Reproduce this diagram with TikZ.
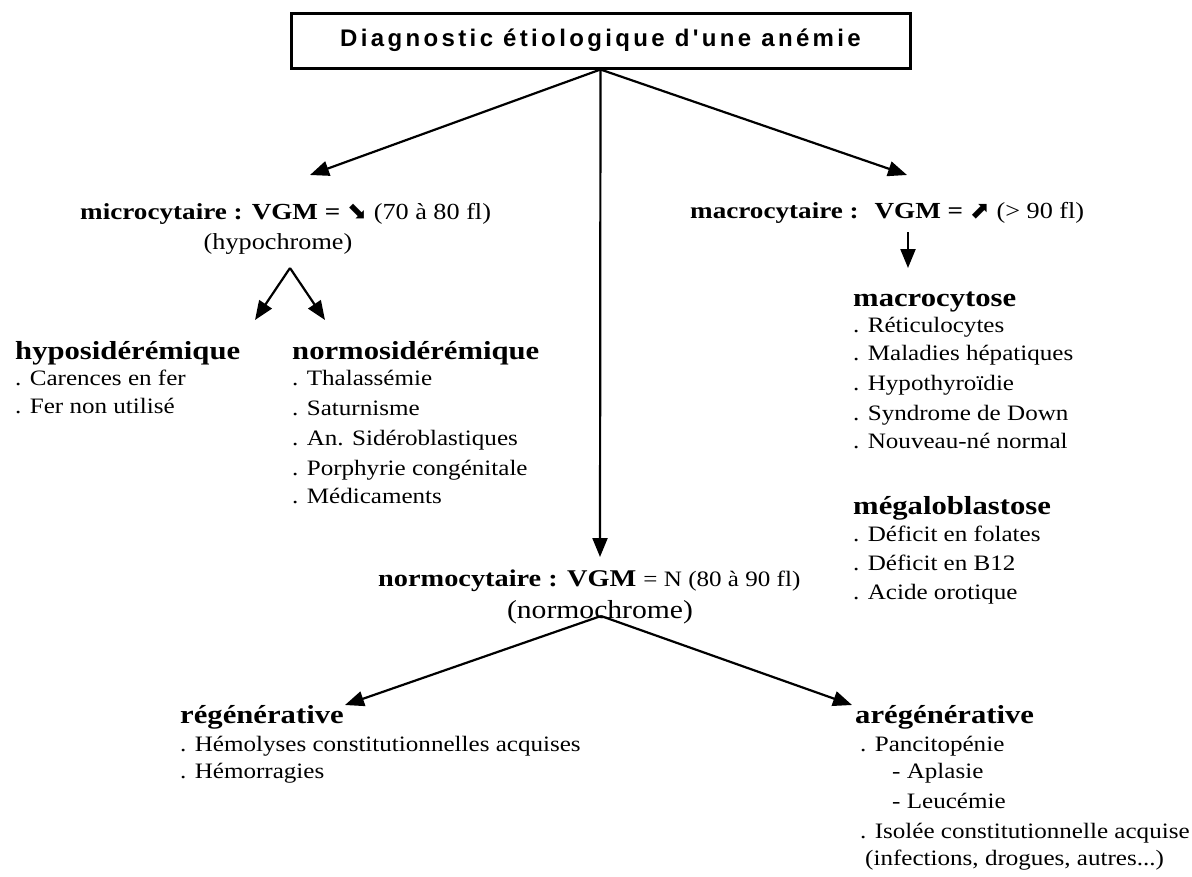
\documentclass[tikz,border=0pt]{standalone}
\usepackage{fontspec}
\setmainfont{Liberation Serif}
\newfontfamily\itemfont[FakeStretch=1.14]{Liberation Serif}
\newfontfamily\headfont[FakeStretch=1.18]{Liberation Serif}
\newfontfamily\titlefont[LetterSpace=14]{Liberation Sans}
\newfontfamily\symfont{DejaVu Sans}
\usetikzlibrary{arrows.meta}
\begin{document}
\begin{tikzpicture}[x=1pt,y=-1pt,
  arr/.style={line width=2.2pt,-{Triangle[length=19pt,width=15pt]}},
  item/.style={anchor=west,inner sep=0pt,text height=15pt,text depth=5pt,font=\itemfont\fontsize{22}{26}\selectfont},
  head/.style={anchor=west,inner sep=0pt,text height=18pt,text depth=6pt,font=\headfont\bfseries\fontsize{26}{30}\selectfont},
  cat/.style={anchor=west,inner sep=0pt,text height=18pt,text depth=6pt,font=\headfont\bfseries\fontsize{23}{30}\selectfont},
  paren/.style={inner sep=0pt,text height=18pt,text depth=6pt,font=\itemfont\fontsize{26}{30}\selectfont}]
\useasboundingbox (0,0) rectangle (1192,876);
% title
\node[draw,line width=3pt,minimum width=619pt,minimum height=55pt,inner sep=0pt,
      font=\titlefont\bfseries\fontsize{24}{28}\selectfont] (root) at (600.5,40.5) {Diagnostic étiologique d'une anémie};
% coordinates of arrow tips
\coordinate (tipmicro) at (310,175);
\coordinate (tipmacro) at (907,175);
\coordinate (tipnormo) at (600,557);
% microcytaire
\node[cat] (micro) at (80,213) {microcytaire : VGM = {\mdseries\symfont\fontsize{24}{24}\selectfont ⬊}{\mdseries\itemfont\fontsize{23}{26}\selectfont\ (70 à 80 fl)}};
\node[paren,font=\itemfont\fontsize{23}{28}\selectfont] (hypochrome) at (278,243) {(hypochrome)};
\coordinate (forkmicro) at (290,268);
\coordinate (tiphypo) at (255,320);
\coordinate (tipnormosid) at (325,320);
% macrocytaire
\node[cat] (macro) at (690,212) {macrocytaire : \ VGM = {\mdseries\symfont\fontsize{24}{24}\selectfont ⬈}{\mdseries\itemfont\fontsize{23}{26}\selectfont\ (> 90 fl)}};
\coordinate (macrostart) at (908,232);
\coordinate (tipmacrocytose) at (908,268);
% hyposideremique
\node[head] (hypo) at (15,353) {hyposidérémique};
\node[item] (hypo1) at (15,380) {. Carences en fer};
\node[item] (hypo2) at (15,408) {. Fer non utilisé};
% normosideremique
\node[head] (normosid) at (292,353) {normosidérémique};
\node[item] (ns1) at (292,380) {. Thalassémie};
\node[item] (ns2) at (292,410) {. Saturnisme};
\node[item] (ns3) at (292,440) {. An. Sidéroblastiques};
\node[item] (ns4) at (292,470) {. Porphyrie congénitale};
\node[item] (ns5) at (292,498) {. Médicaments};
% macrocytose
\node[head] (macrocytose) at (853,300) {macrocytose};
\node[item] (mc1) at (853,327) {. Réticulocytes};
\node[item] (mc2) at (853,355) {. Maladies hépatiques};
\node[item] (mc3) at (853,385) {. Hypothyroïdie};
\node[item] (mc4) at (853,415) {. Syndrome de Down};
\node[item] (mc5) at (853,443) {. Nouveau-né normal};
% megaloblastose
\node[head] (megalo) at (853,508) {mégaloblastose};
\node[item] (mg1) at (853,536) {. Déficit en folates};
\node[item] (mg2) at (853,565) {. Déficit en B12};
\node[item] (mg3) at (853,594) {. Acide orotique};
% normocytaire
\node[cat,font=\headfont\bfseries\fontsize{24}{30}\selectfont] (normo) at (378,580) {normocytaire : VGM {\mdseries\itemfont\fontsize{22}{26}\selectfont = N (80 à 90 fl)}};
\node[paren] (normochrome) at (600,612) {(normochrome)};
\coordinate (forknormo) at (601,616);
\coordinate (tipregen) at (345,705);
\coordinate (tiparegen) at (852,705);
% regenerative
\node[head] (regen) at (180,717) {régénérative};
\node[item] (rg1) at (180,746) {. Hémolyses constitutionnelles acquises};
\node[item] (rg2) at (180,773) {. Hémorragies};
% aregenerative
\node[head] (aregen) at (855,717) {arégénérative};
\node[item] (ar1) at (860,746) {. Pancitopénie};
\node[item] (ar2) at (892,773) {- Aplasie};
\node[item] (ar3) at (892,803) {- Leucémie};
\node[item] (ar4) at (860,833) {. Isolée constitutionnelle acquise};
\node[item] (ar5) at (865,860) {(infections, drogues, autres...)};
% arrows
\draw[arr] (root.south) -- (tipmicro);
\draw[arr] (root.south) -- (tipmacro);
\draw[arr] (root.south) -- (tipnormo);
\draw[arr] (macrostart) -- (tipmacrocytose);
\draw[arr] (forkmicro) -- (tiphypo);
\draw[arr] (forkmicro) -- (tipnormosid);
\draw[arr] (forknormo) -- (tipregen);
\draw[arr] (forknormo) -- (tiparegen);
\end{tikzpicture}
\end{document}
